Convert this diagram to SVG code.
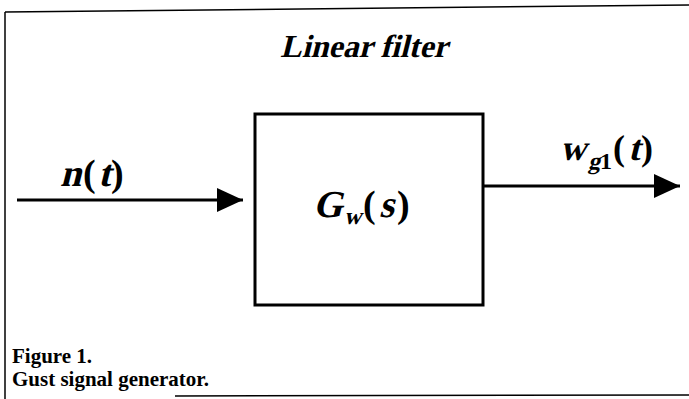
<svg xmlns="http://www.w3.org/2000/svg" width="689" height="399" viewBox="0 0 689 399">
<style>
.ln{stroke:#000;stroke-width:3;fill:none}
.fr{stroke:#000;stroke-width:1.5;fill:none}
text{font-family:'Liberation Serif','Times New Roman',serif;fill:#000;font-weight:bold}
.cap{font-size:21px}
</style>
<defs>
<marker id="ah" markerWidth="26" markerHeight="24" refX="26" refY="12" orient="auto" markerUnits="userSpaceOnUse">
<path d="M0,0 L26,12 L0,24 Z" fill="#000"/>
</marker>
</defs>
<rect width="689" height="399" fill="#fff"/>
<g id="frame">
<path class="fr" d="M5,12 L689,5"/>
<path class="fr" d="M5,12 L5,399"/>
<path class="fr" d="M175,396 L689,395"/>
</g>
<g id="title">
<text transform="translate(364,57) skewX(-14)" font-size="32" text-anchor="middle">Linear filter</text>
</g>
<g id="filter">
<rect x="255" y="114" width="228" height="191" fill="none" stroke="#000" stroke-width="3"/>
<text transform="translate(313,217) skewX(-14)" font-size="38">G</text>
<text transform="translate(344,224) skewX(-14)" font-size="24">w</text>
<text x="363" y="217" font-size="38">(</text>
<text transform="translate(379,217) skewX(-14)" font-size="38">s</text>
<text x="397" y="217" font-size="38">)</text>
</g>
<g id="connectors">
<path class="ln" d="M17,200 L243,200" marker-end="url(#ah)"/>
<path class="ln" d="M483,186 L680,186" marker-end="url(#ah)"/>
</g>
<g id="labels">
<text transform="translate(60,186) skewX(-14)" font-size="38">n</text>
<text x="83" y="186" font-size="38">(</text>
<text transform="translate(98,186) skewX(-14)" font-size="38">t</text>
<text x="111" y="186" font-size="38">)</text>
<text transform="translate(560,160) skewX(-14)" font-size="36">w</text>
<text transform="translate(588,169) skewX(-14)" font-size="24">g</text>
<text x="600" y="169" font-size="24" font-weight="normal">1</text>
<text x="613" y="160" font-size="36">(</text>
<text transform="translate(628,160) skewX(-14)" font-size="36">t</text>
<text x="641" y="160" font-size="36">)</text>
</g>
<g id="caption">
<text class="cap" x="12" y="363">Figure 1.</text>
<text class="cap" x="12" y="386">Gust signal generator.</text>
</g>
</svg>
